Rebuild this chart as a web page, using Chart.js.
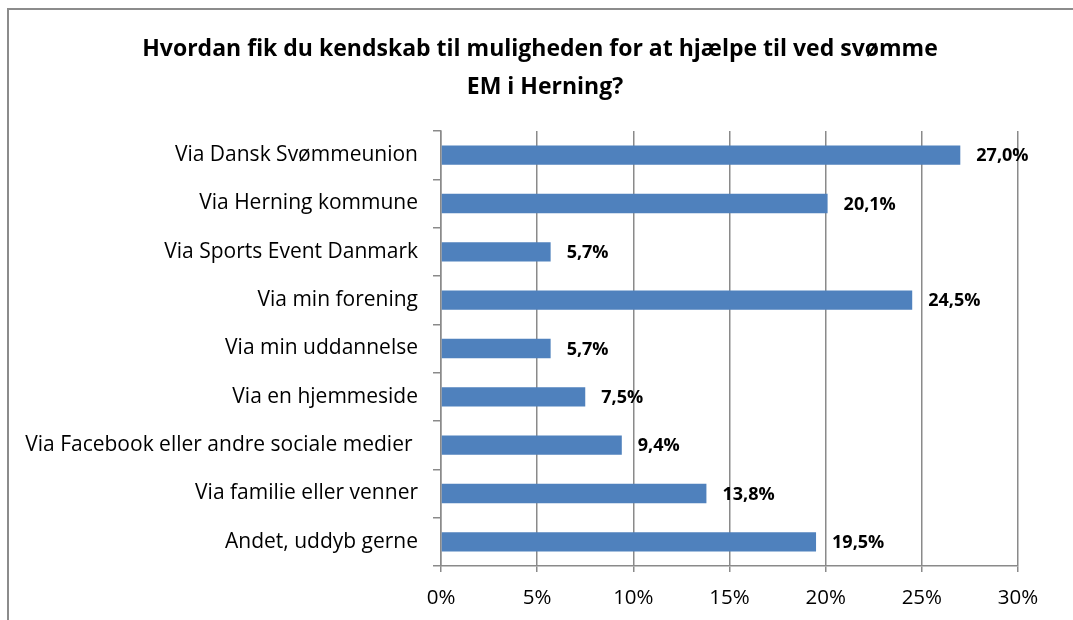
<!DOCTYPE html>
<html>
<head>
<meta charset="utf-8">
<script src="https://cdn.jsdelivr.net/npm/chart.js@4/dist/chart.umd.min.js"></script>
<style>
  html, body { margin: 0; padding: 0; background: #fff; }
  #wrap { width: 1073px; height: 620px; position: relative; }
</style>
</head>
<body>
<div id="wrap"><canvas id="c" width="1073" height="620"></canvas></div>
<script>
const titleLines = ["Hvordan fik du kendskab til muligheden for at hjælpe til ved svømme", "EM i Herning?"];
const categories = [
  "Via Dansk Svømmeunion",
  "Via Herning kommune",
  "Via Sports Event Danmark",
  "Via min forening",
  "Via min uddannelse",
  "Via en hjemmeside",
  "Via Facebook eller andre sociale medier ",
  "Via familie eller venner",
  "Andet, uddyb gerne"
];
const values = [27.0, 20.1, 5.7, 24.5, 5.7, 7.5, 9.4, 13.8, 19.5];
const valueLabels = ["27,0%", "20,1%", "5,7%", "24,5%", "5,7%", "7,5%", "9,4%", "13,8%", "19,5%"];
const xTickMin = 0, xTickMax = 30, xTickStep = 5;

const FONT = "'Open Sans'";
const GRID = "#8a8a8a";

const framePlugin = {
  id: 'frame',
  beforeDraw(chart) {
    const ctx = chart.ctx;
    ctx.save();
    ctx.fillStyle = '#ffffff';
    ctx.fillRect(0, 0, chart.width, chart.height);
    ctx.strokeStyle = '#8c8c8c';
    ctx.lineWidth = 2;
    ctx.beginPath();
    ctx.moveTo(8, chart.height);
    ctx.lineTo(8, 9);
    ctx.lineTo(chart.width, 9);
    ctx.stroke();
    // title
    ctx.fillStyle = '#000';
    ctx.font = "bold 23px " + FONT;
    ctx.textAlign = 'center';
    ctx.textBaseline = 'alphabetic';
    ctx.fillText(titleLines[0], 540, 56);
    ctx.fillText(titleLines[1], 545, 94);
    ctx.restore();
  }
};

const valueLabelPlugin = {
  id: 'valueLabels',
  afterDatasetsDraw(chart) {
    const ctx = chart.ctx;
    const meta = chart.getDatasetMeta(0);
    ctx.save();
    ctx.font = "bold 18px " + FONT;
    ctx.fillStyle = '#000';
    ctx.textAlign = 'left';
    ctx.textBaseline = 'middle';
    meta.data.forEach((el, i) => {
      ctx.fillText(valueLabels[i], el.x + 16, el.y + 1);
    });
    ctx.restore();
  }
};

new Chart(document.getElementById('c'), {
  type: 'bar',
  data: {
    labels: categories,
    datasets: [{
      data: values,
      backgroundColor: '#4f81bd',
      borderWidth: 0,
      categoryPercentage: 0.8,
      barPercentage: 0.5
    }]
  },
  plugins: [framePlugin, valueLabelPlugin],
  options: {
    indexAxis: 'y',
    responsive: false,
    animation: false,
    devicePixelRatio: 1,
    layout: { padding: { left: 12, right: 55, top: 131, bottom: 0 } },
    plugins: {
      legend: { display: false },
      tooltip: { enabled: false },
      title: { display: false }
    },
    scales: {
      x: {
        min: xTickMin,
        max: xTickMax,
        afterFit(scale) { scale.height = 54; },
        ticks: {
          stepSize: xTickStep,
          padding: 14,
          color: '#000',
          font: { family: FONT, size: 20.5 },
          callback: v => v + '%'
        },
        grid: { color: GRID, lineWidth: 1.5, tickLength: 6, drawTicks: true },
        border: { color: GRID, width: 1.5 }
      },
      y: {
        afterFit(scale) { scale.width = 441 - 12; },
        ticks: {
          padding: 15,
          color: '#000',
          font: { family: FONT, size: 21 },
          autoSkip: false
        },
        grid: { color: GRID, lineWidth: 1.5, drawOnChartArea: false, drawTicks: true, tickLength: 8, offset: true },
        border: { color: GRID, width: 1.5 }
      }
    }
  }
});
</script>
</body>
</html>
